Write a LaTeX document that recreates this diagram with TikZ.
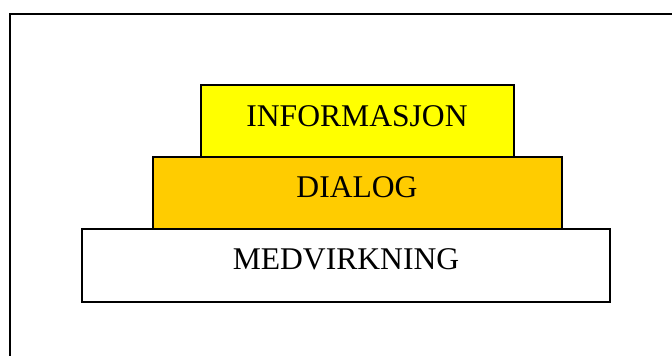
\documentclass[tikz,border=0pt]{standalone}
\usepackage{fontspec}
\setmainfont{Liberation Serif}
\definecolor{infoyellow}{HTML}{FFFF00}
\definecolor{dialogorange}{HTML}{FFCC00}
\begin{document}
\begin{tikzpicture}[x=1pt,y=-1pt,
  tier/.style={draw=black, line width=2pt, inner sep=0pt, outer sep=0pt},
  tiertext/.style={anchor=base, font=\fontsize{31.6}{36}\selectfont, inner sep=0pt}]
\useasboundingbox (0,0) rectangle (672,356);
\draw[line width=2pt] (9.5,357) -- (9.5,13.5) -- (673,13.5);
\node[tier, fill=white, minimum width=528pt, minimum height=73pt] (medbox) at (346,265.5) {};
\node[tier, fill=dialogorange, minimum width=409pt, minimum height=72pt] (dialogbox) at (357.5,193) {};
\node[tier, fill=infoyellow, minimum width=313pt, minimum height=72pt] (infobox) at (357.5,121) {};
\node[tiertext] (infotext) at (357,126) {INFORMASJON};
\node[tiertext] (dialogtext) at (357,197) {DIALOG};
\node[tiertext] (medtext) at (346,269) {MEDVIRKNING};
\end{tikzpicture}
\end{document}
